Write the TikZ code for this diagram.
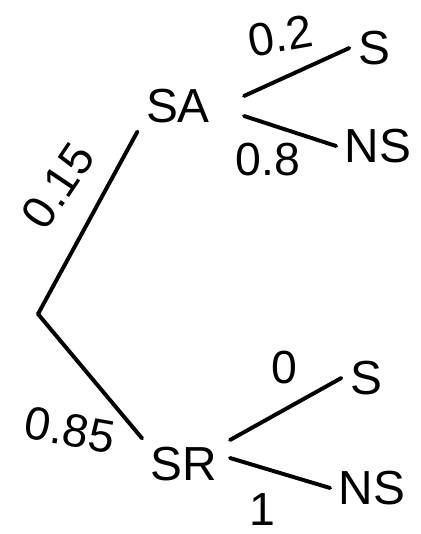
\documentclass[tikz,border=0pt]{standalone}
\usepackage{fontspec}
\setmainfont{Liberation Sans}
\tikzset{
  estat/.style={font=\fontsize{34}{38}\selectfont, inner sep=6pt},
  prob/.style={font=\fontsize{33}{36}\selectfont, inner sep=2pt},
  branca/.style={draw=black, line width=2.8pt, line cap=round},
}

\begin{document}
\begin{tikzpicture}[x=1cm,y=1cm]
  \useasboundingbox (0,0) rectangle (10.525,13.35);

  % arrel i primer nivell
  \coordinate (arrel) at (0.95,5.5);
  \node[estat] (SA) at (4.45,10.7) {SA};
  \node[estat] (SR) at (4.6,1.75) {SR};
  \draw[branca] (arrel) -- (SA.south west);
  \draw[branca] (arrel) -- (SR.north west);
  \node[prob, rotate=56] (p15) at (1.45,8.7) {0.15};
  \node[prob, rotate=-10] (p85) at (1.75,2.6) {0.85};

  % branques de SA
  \node[estat] (S1) at (9.35,12.15) {S};
  \node[estat] (NS1) at (9.45,9.7) {NS};
  \draw[branca] (6.1,10.95) -- (S1.west);
  \draw[branca] (6.1,10.45) -- (NS1.west);
  \node[prob, rotate=10] (p2) at (7.0,12.45) {0.2};
  \node[prob] (p8) at (6.7,9.35) {0.8};

  % branques de SR
  \node[estat] (S2) at (9.15,3.9) {S};
  \node[estat] (NS2) at (9.3,1.15) {NS};
  \draw[branca] (5.75,2.35) -- (S2.west);
  \draw[branca] (5.75,1.9) -- (NS2.west);
  \node[prob] (p0) at (7.1,4.15) {0};
  \node[prob] (p1) at (6.55,0.6) {1};
\end{tikzpicture}
\end{document}
